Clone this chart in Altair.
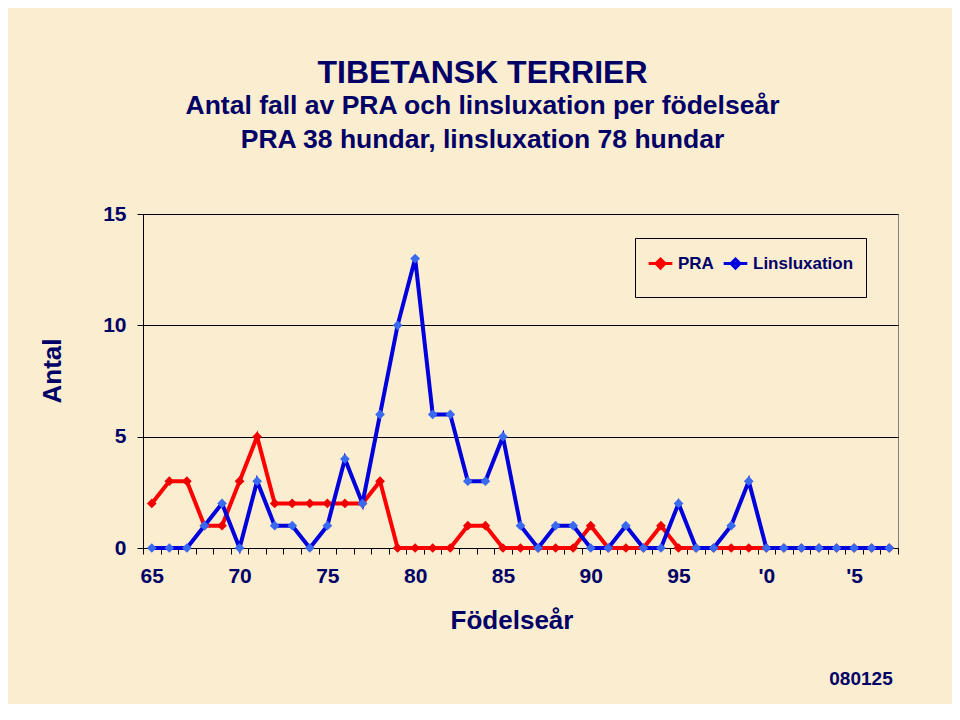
import altair as alt
import pandas as pd

# ---- data ----
years = list(range(1965, 2008))
pra = [2, 3, 3, 1, 1, 3, 5, 2, 2, 2, 2, 2, 2, 3, 0,
       0, 0, 0, 1, 1, 0, 0, 0, 0, 0,
       1, 0, 0, 0, 1, 0, 0, 0, 0, 0,
       0, 0, 0, 0, 0, 0, 0, 0]
lins = [0, 0, 0, 1, 2, 0, 3, 1, 1, 0, 1, 4, 2, 6, 10,
        13, 6, 6, 3, 3, 5, 1, 0, 1, 1,
        0, 0, 1, 0, 0, 2, 0, 0, 1, 3,
        0, 0, 0, 0, 0, 0, 0, 0]
series_names = ["PRA", "Linsluxation"]
label_years = [1965, 1970, 1975, 1980, 1985, 1990, 1995, 2000, 2005]
label_texts = ["65", "70", "75", "80", "85", "90", "95", "'0", "'5"]
y_ticks = [0, 5, 10, 15]
title_text = "TIBETANSK TERRIER"
subtitle_lines = ["Antal fall av PRA och linsluxation per födelseår",
                  "PRA 38 hundar, linsluxation 78 hundar"]
footer_text = ["080125"]

rows = []
for yr, a, b in zip(years, pra, lins):
    rows.append({"year": yr, "series": "PRA", "value": a})
    rows.append({"year": yr, "series": "Linsluxation", "value": b})
df = pd.DataFrame(rows)

# ---- style ----
NAVY = "#000066"
FONT = "Liberation Sans"
BG = "#FBEDD0"
W, H = 755, 334
step = W / len(years)

boundaries = [yr - 0.5 for yr in years] + [years[-1] + 0.5]
expr = '""'
for yr, t in reversed(list(zip(label_years, label_texts))):
    expr = f'abs(datum.value + 0.5 - {yr}) < 0.01 ? "{t}" : ' + expr

x_enc = alt.X(
    "year:Q",
    scale=alt.Scale(domain=[years[0] - 0.5, years[-1] + 0.5], nice=False, zero=False),
    axis=alt.Axis(
        values=boundaries, labelExpr=expr, labelOffset=step / 2,
        labelOverlap=False, labelFlush=False, labelBound=False,
        tickSize=6, tickColor="black", domainColor="black", grid=False,
        labelFont=FONT, labelFontSize=21, labelFontWeight="bold", labelColor=NAVY,
        labelPadding=11,
        title="Födelseår", titleFont=FONT, titleFontSize=26, titleFontWeight="bold",
        titleColor=NAVY, titleX=368.5, titleY=80, titleAlign="center",
        titleBaseline="alphabetic",
    ),
)
y_enc = alt.Y(
    "value:Q",
    scale=alt.Scale(domain=[0, 15], nice=False),
    axis=alt.Axis(
        values=y_ticks, tickSize=6, tickColor="black", domainColor="black",
        grid=True, gridColor="black", gridWidth=1, gridOpacity=1,
        labelFont=FONT, labelFontSize=21, labelFontWeight="bold", labelColor=NAVY,
        labelPadding=11,
        title="Antal", titleFont=FONT, titleFontSize=26, titleFontWeight="bold",
        titleColor=NAVY, titleAngle=-90, titleX=-83, titleY=156.5,
        titleAlign="center", titleBaseline="alphabetic",
    ),
)

stroke_scale = alt.Scale(domain=series_names, range=["#FF0000", "#0000DD"])
fill_scale = alt.Scale(domain=series_names, range=["#EE0000", "#3A6AF0"])

legend = alt.Legend(
    title=None, orient="none", legendX=492, legendY=24, direction="horizontal",
    strokeColor="black", padding=12, fillColor=BG,
    symbolType="M0,-1.3M0,1.3M-1,0L1,0M0,-0.38L0.38,0L0,0.38L-0.38,0Z",
    symbolSize=560, symbolStrokeWidth=3,
    labelFont=FONT, labelFontSize=17, labelFontWeight="bold", labelColor=NAVY,
    columnPadding=3, labelOffset=4,
)

base = alt.Chart(df)
layers = []
for name in series_names:
    sub = base.transform_filter(alt.datum.series == name)
    layers.append(
        sub.mark_line(strokeWidth=4).encode(
            x=x_enc, y=y_enc,
            color=alt.Color("series:N", scale=stroke_scale, legend=legend),
        )
    )
    layers.append(
        sub.mark_point(shape="diamond", filled=True, size=95, opacity=1).encode(
            x=x_enc, y=y_enc,
            fill=alt.Fill("series:N", scale=fill_scale, legend=legend),
        )
    )

footer = alt.Chart(pd.DataFrame({"t": footer_text})).mark_text(
    font=FONT, fontSize=19, fontWeight="bold", color=NAVY, align="center",
    baseline="middle",
).encode(x=alt.value(718), y=alt.value(465), text="t:N")

chart = alt.layer(*layers, footer).properties(
    width=W, height=H,
    background=BG,
    padding={"left": 135, "top": 206, "right": 54, "bottom": 156},
    autosize=alt.AutoSizeParams(type="none"),
    title=alt.TitleParams(
        text=title_text, subtitle=subtitle_lines,
        font=FONT, fontSize=32, fontWeight="bold", color=NAVY,
        subtitleFont=FONT, subtitleFontSize=26.5, subtitleFontWeight="bold",
        subtitleColor=NAVY, subtitleLineHeight=34, subtitlePadding=3,
        anchor="middle", frame="group", dx=-38, offset=49,
    ),
).configure_view(stroke="#808080", strokeWidth=1)

chart.save("out.html", embed_options={"renderer": "svg", "actions": False})
